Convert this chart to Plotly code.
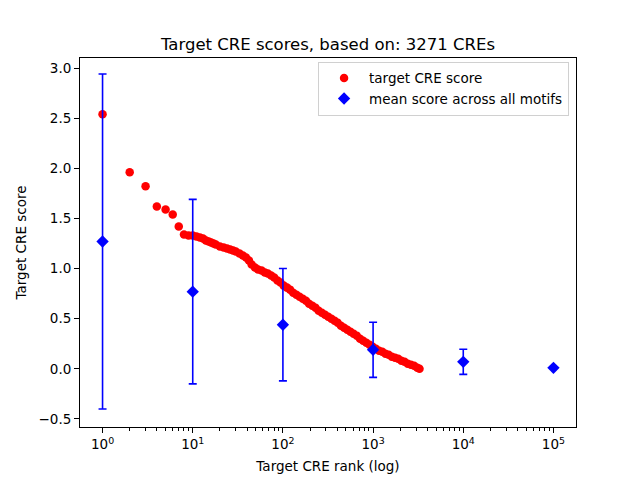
import plotly.graph_objects as go

# Target CRE scores (rank -> score)
cre_rank = [1, 2, 3, 4, 5, 6, 7, 8, 9, 10,
            11, 12, 13, 14, 15, 16, 17, 18, 20, 22, 24, 26, 28, 30, 33, 36, 39, 42, 45, 49,
            53, 58, 63, 68, 74, 80, 87, 94, 102, 111, 120, 130, 141, 153, 166, 180, 195, 212,
            230, 249, 270, 293, 318, 345, 374, 405, 440, 477, 517, 561, 608, 660, 716, 776,
            842, 913, 990, 1074, 1165, 1264, 1371, 1487, 1613, 1750, 1898, 2059, 2233, 2422,
            2627, 2850, 3091, 3271]
cre_score = [2.54, 1.96, 1.82, 1.62, 1.59, 1.54, 1.42, 1.34, 1.33, 1.33,
             1.32, 1.31, 1.30, 1.28, 1.27, 1.26, 1.25, 1.24, 1.22, 1.21, 1.20, 1.19, 1.18, 1.17,
             1.15, 1.13, 1.11, 1.08, 1.04, 1.01,
             0.99, 0.98, 0.96, 0.95, 0.93, 0.91, 0.88, 0.86, 0.83, 0.81, 0.79, 0.76, 0.74, 0.72,
             0.70, 0.68, 0.65, 0.63,
             0.61, 0.58, 0.56, 0.54, 0.52, 0.50, 0.48, 0.46, 0.43, 0.41, 0.39, 0.37, 0.35, 0.33,
             0.30, 0.28,
             0.26, 0.24, 0.22, 0.20, 0.18, 0.17, 0.15, 0.14, 0.12, 0.11, 0.10, 0.08, 0.07, 0.05,
             0.04, 0.03, 0.01, 0.00]

# Mean score across all motifs with error (std)
motif_rank = [1, 10, 100, 1000, 10000, 100000]
motif_mean = [1.27, 0.77, 0.44, 0.19, 0.07, 0.01]
motif_err = [1.67, 0.92, 0.56, 0.275, 0.125, 0.005]

x_tickvals = [1, 10, 100, 1000, 10000, 100000]
x_ticktext = ["10<sup>0</sup>", "10<sup>1</sup>", "10<sup>2</sup>", "10<sup>3</sup>",
              "10<sup>4</sup>", "10<sup>5</sup>"]
y_tickvals = [-0.5, 0.0, 0.5, 1.0, 1.5, 2.0, 2.5, 3.0]
minor_vals = [m * 10 ** k for k in range(0, 6) for m in range(2, 10)]

font = "DejaVu Sans, Verdana, sans-serif"

fig = go.Figure()
fig.add_trace(go.Scatter(
    x=cre_rank, y=cre_score, mode="markers", name="target CRE score",
    marker=dict(color="#ff0000", size=8.5, line=dict(width=0)),
))
fig.add_trace(go.Scatter(
    x=motif_rank, y=motif_mean, mode="markers", name="mean score across all motifs",
    marker=dict(color="#0000ff", symbol="diamond", size=9.5, line=dict(width=0)),
    error_y=dict(type="data", array=motif_err, visible=True, color="#0000ff",
                 thickness=1.6, width=4),
))

fig.update_layout(
    width=640, height=480, autosize=False,
    margin=dict(l=80, r=64, t=58, b=53),
    paper_bgcolor="white", plot_bgcolor="white",
    font=dict(family=font, size=13.5, color="black"),
    title=dict(text="Target CRE scores, based on: 3271 CREs", x=0.5, xanchor="center",
               xref="paper", y=1 - 44 / 480, yanchor="middle",
               font=dict(size=16.5, family=font, color="black")),
    showlegend=True,
    legend=dict(x=0.986, y=0.99, xanchor="right", yanchor="top",
                bgcolor="white", bordercolor="#d0d0d0", borderwidth=1,
                font=dict(size=13.5, family=font), itemsizing="trace",
                itemwidth=40, tracegroupgap=0),
)

fig.update_xaxes(
    type="log", range=[-0.25, 5.25], automargin=False,
    tickmode="array", tickvals=x_tickvals, ticktext=x_ticktext,
    ticks="outside", ticklen=5, tickwidth=1, tickcolor="black",
    showline=True, linecolor="black", linewidth=1, mirror=True,
    showgrid=False, zeroline=False,
    minor=dict(tickmode="array", tickvals=minor_vals, ticks="outside", ticklen=2.5,
               tickwidth=0.8, tickcolor="black", showgrid=False),
    title=dict(text="Target CRE rank (log)", standoff=10, font=dict(size=13.5)),
)
fig.update_yaxes(
    range=[-0.58, 3.10], automargin=False,
    tickmode="array", tickvals=y_tickvals, tickformat=".1f",
    ticks="outside", ticklen=5, tickwidth=1, tickcolor="black",
    showline=True, linecolor="black", linewidth=1, mirror=True,
    showgrid=False, zeroline=False,
    title=dict(text="Target CRE score", standoff=8, font=dict(size=13.5)),
)

fig.write_html("out.html",
               config={"displayModeBar": False, "responsive": False},
               post_script="document.body.style.margin='0';")
